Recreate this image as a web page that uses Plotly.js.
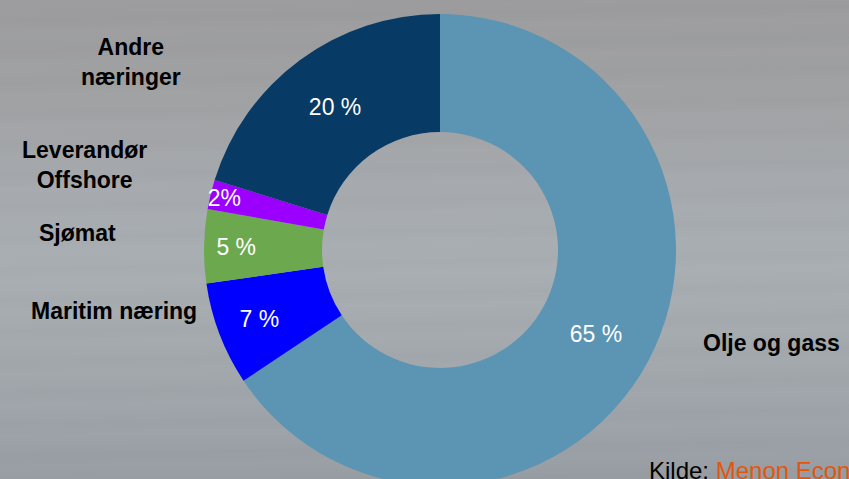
<!DOCTYPE html>
<html>
<head>
<meta charset="utf-8">
<script src="https://cdn.plot.ly/plotly-3.0.1.min.js"></script>
<style>
  html, body { margin: 0; padding: 0; width: 849px; height: 479px; overflow: hidden; }
  body {
    background:
      repeating-linear-gradient(179deg, rgba(255,255,255,0.015) 0px, rgba(255,255,255,0) 13px, rgba(0,0,0,0.01) 21px, rgba(255,255,255,0) 31px),
      linear-gradient(180deg, #9c9c9e 0%, #a0a1a3 20%, #a6aaae 40%, #a8aeb2 55%, #a3a9ad 72%, #9da3a8 88%, #979da2 100%);
  }
  #chart { width: 849px; height: 500px; }
</style>
</head>
<body>
<div id="chart"></div>
<script>
// sector data, clockwise from 12 o'clock
const sectors = ['Olje og gass', 'Maritim næring', 'Sjømat', 'Leverandør Offshore', 'Andre næringer'];
const shares = [65, 7, 5, 2, 20];
const shareText = ['65 %', '7 %', '5 %', '2%', '20 %'];
const sectorColors = ['#5b95b3', '#0000ff', '#6ca84e', '#9b00ff', '#073a64'];

const W = 849, H = 500;
function px(x) { return x / W; }
function py(y) { return 1 - y / H; }

// donut centre (440, 250), radius 236
const cx = 440, cy = 250, r = 236;

const trace = {
  type: 'pie',
  labels: sectors,
  values: shares,
  text: shareText,
  textinfo: 'text',
  textposition: 'inside',
  insidetextorientation: 'horizontal',
  textfont: { family: 'Liberation Sans, Arial, sans-serif', size: 23, color: '#ffffff' },
  marker: { colors: sectorColors, line: { width: 0 } },
  hole: 0.5,
  sort: false,
  direction: 'clockwise',
  rotation: 0,
  domain: { x: [px(cx - r), px(cx + r)], y: [py(cy + r), py(cy - r)] },
  hoverinfo: 'label+percent',
  showlegend: false
};

const labelFont = { family: 'Liberation Sans, Arial, sans-serif', size: 23, color: '#000000' };

// outside category labels
const labelPos = [
  [771, 343],
  [114, 311],
  [77, 233],
  [84, 165],
  [131, 62]
];
const labelText = ['Olje og gass', 'Maritim næring', 'Sjømat', 'Leverandør<br>Offshore', 'Andre<br>næringer'];

const annotations = labelText.map((t, i) => ({
  text: '<b>' + t + '</b>',
  x: px(labelPos[i][0]), y: py(labelPos[i][1]),
  xref: 'paper', yref: 'paper',
  xanchor: 'center', yanchor: 'middle',
  showarrow: false,
  align: 'center',
  font: labelFont
}));

// source line, cut at the right edge as in the original slide
annotations.push({
  text: 'Kilde:<span style="color:#e2560c"> Menon Econ</span>',
  x: px(647), y: py(470),
  xref: 'paper', yref: 'paper',
  xanchor: 'left', yanchor: 'middle',
  showarrow: false,
  font: { family: 'Liberation Sans, Arial, sans-serif', size: 24, color: '#000000' }
});

const layout = {
  width: W,
  height: H,
  margin: { l: 0, r: 0, t: 0, b: 0 },
  paper_bgcolor: 'rgba(0,0,0,0)',
  plot_bgcolor: 'rgba(0,0,0,0)',
  uniformtext: { mode: 'show', minsize: 23 },
  annotations: annotations
};

Plotly.newPlot('chart', [trace], layout, { displayModeBar: false, staticPlot: true });
</script>
</body>
</html>
